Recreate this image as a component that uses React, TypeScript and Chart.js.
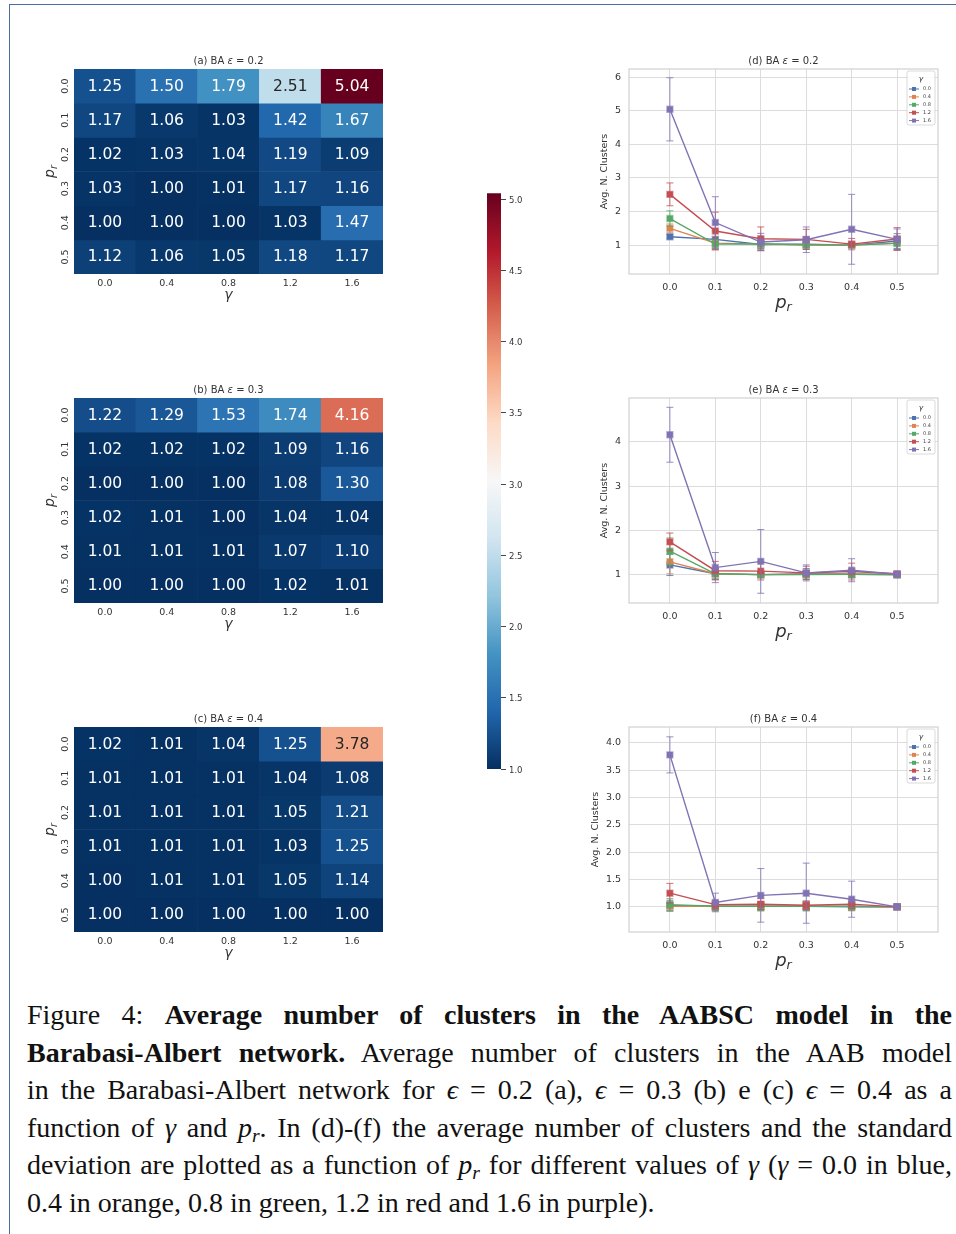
import React, { useEffect, useRef } from "react";
import { Chart, registerables } from "chart.js";

Chart.register(...registerables);

const FONT = '"DejaVu Sans", sans-serif';
const TEXT = "#333333";
const GRID = "#dcdcdc";
Chart.defaults.font.family = FONT;

// ---- categories / tick labels ----
const gammaLabels = ["0.0", "0.4", "0.8", "1.2", "1.6"];
const prLabels = ["0.0", "0.1", "0.2", "0.3", "0.4", "0.5"];
const prValues = [0, 0.1, 0.2, 0.3, 0.4, 0.5];

// ---- average number of clusters: rows = p_r, columns = gamma ----
const heatEps02 = [
  [1.25, 1.5, 1.79, 2.51, 5.04],
  [1.17, 1.06, 1.03, 1.42, 1.67],
  [1.02, 1.03, 1.04, 1.19, 1.09],
  [1.03, 1.0, 1.01, 1.17, 1.16],
  [1.0, 1.0, 1.0, 1.03, 1.47],
  [1.12, 1.06, 1.05, 1.18, 1.17],
];
const heatEps03 = [
  [1.22, 1.29, 1.53, 1.74, 4.16],
  [1.02, 1.02, 1.02, 1.09, 1.16],
  [1.0, 1.0, 1.0, 1.08, 1.3],
  [1.02, 1.01, 1.0, 1.04, 1.04],
  [1.01, 1.01, 1.01, 1.07, 1.1],
  [1.0, 1.0, 1.0, 1.02, 1.01],
];
const heatEps04 = [
  [1.02, 1.01, 1.04, 1.25, 3.78],
  [1.01, 1.01, 1.01, 1.04, 1.08],
  [1.01, 1.01, 1.01, 1.05, 1.21],
  [1.01, 1.01, 1.01, 1.03, 1.25],
  [1.0, 1.01, 1.01, 1.05, 1.14],
  [1.0, 1.0, 1.0, 1.0, 1.0],
];

// ---- standard deviations: rows = gamma, columns = p_r ----
const stdEps02 = [
  [0.06, 0.25, 0.12, 0.15, 0.03, 0.22],
  [0.13, 0.2, 0.15, 0.05, 0.03, 0.2],
  [0.23, 0.15, 0.18, 0.1, 0.03, 0.18],
  [0.34, 0.56, 0.35, 0.3, 0.17, 0.34],
  [0.94, 0.77, 0.26, 0.38, 1.04, 0.31],
];
const stdEps03 = [
  [0.24, 0.12, 0.03, 0.12, 0.08, 0.03],
  [0.27, 0.12, 0.03, 0.08, 0.08, 0.03],
  [0.3, 0.12, 0.03, 0.03, 0.08, 0.03],
  [0.2, 0.21, 0.2, 0.15, 0.19, 0.03],
  [0.62, 0.34, 0.72, 0.18, 0.26, 0.03],
];
const stdEps04 = [
  [0.1, 0.08, 0.08, 0.08, 0.03, 0.02],
  [0.08, 0.08, 0.08, 0.08, 0.08, 0.02],
  [0.11, 0.08, 0.08, 0.08, 0.08, 0.02],
  [0.18, 0.08, 0.1, 0.08, 0.08, 0.02],
  [0.33, 0.17, 0.49, 0.55, 0.33, 0.02],
];

const colorbarTicks = [1.0, 1.5, 2.0, 2.5, 3.0, 3.5, 4.0, 4.5, 5.0];
const yTicksEps02 = [1, 2, 3, 4, 5, 6];
const yTicksEps03 = [1, 2, 3, 4];
const yTicksEps04 = [1.0, 1.5, 2.0, 2.5, 3.0, 3.5, 4.0];

const seriesColors = ["#4c72b0", "#dd8452", "#55a868", "#c44e52", "#8172b3"];
const VMIN = 1.0;
const VMAX = 5.04;
const RDBU_R = [
  "#053061", "#2166ac", "#4393c3", "#92c5de", "#d1e5f0", "#f7f7f7",
  "#fddbc7", "#f4a582", "#d6604d", "#b2182b", "#67001f",
];

// ---- helpers ----
function hexToRgb(h: string): number[] {
  const n = parseInt(h.slice(1), 16);
  return [(n >> 16) & 255, (n >> 8) & 255, n & 255];
}
const RDBU_RGB = RDBU_R.map(hexToRgb);
function cmapRgb(v: number): number[] {
  let t = (v - VMIN) / (VMAX - VMIN);
  t = Math.min(1, Math.max(0, t));
  const p = t * (RDBU_RGB.length - 1);
  const i = Math.min(Math.floor(p), RDBU_RGB.length - 2);
  const fr = p - i;
  const a = RDBU_RGB[i];
  const b = RDBU_RGB[i + 1];
  return [0, 1, 2].map((k) => a[k] + (b[k] - a[k]) * fr);
}
const rgbStr = (c: number[]) => `rgb(${c.map((x) => Math.round(x)).join(",")})`;
function luminance(c: number[]): number {
  const lin = c.map((x) => {
    const s = x / 255;
    return s <= 0.03928 ? s / 12.92 : Math.pow((s + 0.055) / 1.055, 2.4);
  });
  return 0.2126 * lin[0] + 0.7152 * lin[1] + 0.0722 * lin[2];
}
function withAlpha(hex: string, a: number): string {
  const [r, g, b] = hexToRgb(hex);
  return `rgba(${r},${g},${b},${a})`;
}
const fnt = (size: number, italic = false) => `${italic ? "italic " : ""}${size}px ${FONT}`;

type Part = { t: string; f: string; dy?: number };
function drawRich(ctx: CanvasRenderingContext2D, parts: Part[], x: number, y: number, baseline: CanvasTextBaseline = "alphabetic") {
  ctx.textAlign = "left";
  ctx.textBaseline = baseline;
  let w = 0;
  for (const p of parts) {
    ctx.font = p.f;
    w += ctx.measureText(p.t).width;
  }
  let cx = x - w / 2;
  for (const p of parts) {
    ctx.font = p.f;
    ctx.fillText(p.t, cx, y + (p.dy || 0));
    cx += ctx.measureText(p.t).width;
  }
}
const titleParts = (tag: string, eps: string): Part[] => [
  { t: `(${tag}) BA `, f: fnt(10) },
  { t: "ε", f: fnt(10, true) },
  { t: ` = ${eps}`, f: fnt(10) },
];
const prParts = (size: number): Part[] => [
  { t: "p", f: fnt(size, true) },
  { t: "r", f: fnt(size * 0.7, true), dy: size * 0.18 },
];

// ---- heatmap ----
function Heatmap({ left, top, tag, eps, matrix }: { left: number; top: number; tag: string; eps: string; matrix: number[][] }) {
  const ref = useRef<HTMLCanvasElement>(null);
  const W = 380;
  const H = 275;
  useEffect(() => {
    const textPlugin = {
      id: "heatText",
      afterDraw(chart: any) {
        const { ctx, chartArea: ca } = chart;
        ctx.save();
        chart.data.datasets.forEach((ds: any, i: number) => {
          const meta = chart.getDatasetMeta(i);
          meta.data.forEach((bar: any, j: number) => {
            const v = ds.cellValues[j];
            ctx.fillStyle = luminance(cmapRgb(v)) > 0.408 ? "#262626" : "#ffffff";
            ctx.font = fnt(15.5);
            ctx.textAlign = "center";
            ctx.textBaseline = "middle";
            const c = bar.getCenterPoint();
            ctx.fillText(v.toFixed(2), c.x, c.y + 0.5);
          });
        });
        const ys = chart.scales.y;
        ctx.fillStyle = TEXT;
        prLabels.forEach((lab, i) => {
          const py = ys.getPixelForValue(i + 0.5);
          ctx.save();
          ctx.translate(ca.left - 8.5, py);
          ctx.rotate(-Math.PI / 2);
          ctx.font = fnt(9.5);
          ctx.textAlign = "center";
          ctx.textBaseline = "middle";
          ctx.fillText(lab, 0, 0);
          ctx.restore();
        });
        const cx = (ca.left + ca.right) / 2;
        const cy = (ca.top + ca.bottom) / 2;
        ctx.save();
        ctx.translate(ca.left - 20, cy);
        ctx.rotate(-Math.PI / 2);
        drawRich(ctx, prParts(14), 0, 0);
        ctx.restore();
        drawRich(ctx, [{ t: "γ", f: fnt(14, true) }], cx, ca.bottom + 25);
        drawRich(ctx, titleParts(tag, eps), cx, ca.top - 5.5);
        ctx.restore();
      },
    };
    const chart = new Chart(ref.current as HTMLCanvasElement, {
      type: "bar",
      data: {
        labels: gammaLabels,
        datasets: matrix.map((row, i) => ({
          label: prLabels[i],
          data: row.map(() => 1),
          cellValues: row,
          backgroundColor: row.map((v) => rgbStr(cmapRgb(v))),
          borderWidth: 0,
          barPercentage: 1,
          categoryPercentage: 1,
        })) as any,
      },
      options: {
        animation: false,
        responsive: false,
        events: [],
        layout: { padding: { left: 54, top: 24, right: 17, bottom: 16 } },
        plugins: { legend: { display: false }, tooltip: { enabled: false } },
        scales: {
          x: {
            stacked: true,
            grid: { display: false, drawTicks: false },
            border: { display: false },
            ticks: { color: TEXT, font: { family: FONT, size: 9.5 }, padding: 4 },
            afterFit: (s: any) => {
              s.height = 30;
            },
          },
          y: { stacked: true, display: false, min: 0, max: 6, reverse: true },
        },
      } as any,
      plugins: [textPlugin],
    });
    return () => chart.destroy();
  }, []);
  return <canvas ref={ref} width={W} height={H} style={{ position: "absolute", left, top, width: W, height: H }} />;
}

// ---- colour bar ----
function ColorBar({ left, top }: { left: number; top: number }) {
  const ref = useRef<HTMLCanvasElement>(null);
  const W = 60;
  const H = 600;
  useEffect(() => {
    const chart = new Chart(ref.current as HTMLCanvasElement, {
      type: "bar",
      data: {
        labels: [""],
        datasets: [
          {
            data: [[VMIN, VMAX]],
            backgroundColor: (c: any) => {
              const ca = c.chart.chartArea;
              if (!ca) return RDBU_R[0];
              const g = c.chart.ctx.createLinearGradient(0, ca.bottom, 0, ca.top);
              RDBU_R.forEach((col, i) => g.addColorStop(i / (RDBU_R.length - 1), col));
              return g;
            },
            borderWidth: 0,
            barPercentage: 1,
            categoryPercentage: 1,
          },
        ] as any,
      },
      options: {
        animation: false,
        responsive: false,
        events: [],
        layout: { padding: { left: 17, top: 8.3, right: 0, bottom: 16 } },
        plugins: { legend: { display: false }, tooltip: { enabled: false } },
        scales: {
          x: { display: false },
          y: {
            position: "right",
            min: VMIN,
            max: VMAX,
            afterBuildTicks: (s: any) => {
              s.ticks = colorbarTicks.map((v) => ({ value: v }));
            },
            afterFit: (s: any) => {
              s.width = 29;
            },
            grid: { drawOnChartArea: false, drawTicks: true, tickLength: 5, color: "#333", lineWidth: 0.9 },
            border: { display: false },
            ticks: { color: TEXT, font: { family: FONT, size: 8.5 }, padding: 3, labelOffset: 1.5, callback: (v: any) => Number(v).toFixed(1) },
          },
        },
      } as any,
    });
    return () => chart.destroy();
  }, []);
  return <canvas ref={ref} width={W} height={H} style={{ position: "absolute", left, top, width: W, height: H }} />;
}

// ---- line chart with error bars ----
function LinePanel(props: {
  left: number; top: number; tag: string; eps: string; matrix: number[][]; std: number[][];
  yMin: number; yMax: number; yTicks: number[]; yDec: number; yTitleX: number;
}) {
  const { left, top, tag, eps, matrix, std, yMin, yMax, yTicks, yDec, yTitleX } = props;
  const ref = useRef<HTMLCanvasElement>(null);
  const W = 376;
  const H = 275;
  useEffect(() => {
    const decor = {
      id: "decor",
      beforeDatasetsDraw(chart: any) {
        const { ctx, chartArea: ca } = chart;
        ctx.save();
        ctx.strokeStyle = "#d2d2d2";
        ctx.lineWidth = 1.25;
        ctx.strokeRect(ca.left, ca.top, ca.right - ca.left, ca.bottom - ca.top);
        ctx.restore();
      },
      beforeDatasetDraw(chart: any, args: any) {
        const { ctx } = chart;
        const ys = chart.scales.y;
        const ds = chart.data.datasets[args.index];
        const meta = args.meta;
        ctx.save();
        ctx.strokeStyle = withAlpha(ds.borderColor, 0.8);
        ctx.lineWidth = 1;
        meta.data.forEach((pt: any, i: number) => {
          const v = ds.data[i].y;
          const e = ds.errors[i];
          const y1 = ys.getPixelForValue(v + e);
          const y2 = ys.getPixelForValue(v - e);
          ctx.beginPath();
          ctx.moveTo(pt.x, y1);
          ctx.lineTo(pt.x, y2);
          ctx.moveTo(pt.x - 3.5, y1);
          ctx.lineTo(pt.x + 3.5, y1);
          ctx.moveTo(pt.x - 3.5, y2);
          ctx.lineTo(pt.x + 3.5, y2);
          ctx.stroke();
        });
        ctx.restore();
      },
      afterDraw(chart: any) {
        const { ctx, chartArea: ca } = chart;
        const cx = (ca.left + ca.right) / 2;
        const cy = (ca.top + ca.bottom) / 2;
        ctx.save();
        ctx.fillStyle = TEXT;
        drawRich(ctx, titleParts(tag, eps), cx, ca.top - 5.5);
        drawRich(ctx, prParts(18), cx, ca.bottom + 34);
        ctx.save();
        ctx.translate(yTitleX, cy);
        ctx.rotate(-Math.PI / 2);
        ctx.font = fnt(9.5);
        ctx.textAlign = "center";
        ctx.textBaseline = "middle";
        ctx.fillText("Avg. N. Clusters", 0, 0);
        ctx.restore();
        // legend
        const bx = ca.right - 31;
        const by = ca.top + 2;
        const bw = 28;
        const bh = 54;
        ctx.beginPath();
        ctx.roundRect(bx, by, bw, bh, 2);
        ctx.fillStyle = "rgba(255,255,255,0.85)";
        ctx.fill();
        ctx.strokeStyle = "#d0d0d0";
        ctx.lineWidth = 0.8;
        ctx.stroke();
        ctx.fillStyle = TEXT;
        drawRich(ctx, [{ t: "γ", f: fnt(7.5, true) }], bx + bw / 2, ca.top + 10, "middle");
        chart.data.datasets.forEach((ds: any, k: number) => {
          const y = ca.top + 20 + k * 7.9;
          ctx.strokeStyle = ds.borderColor;
          ctx.lineWidth = 1;
          ctx.beginPath();
          ctx.moveTo(bx + 2, y);
          ctx.lineTo(bx + 12, y);
          ctx.stroke();
          ctx.fillStyle = ds.borderColor;
          ctx.fillRect(bx + 5, y - 2, 4, 4);
          ctx.fillStyle = "#444";
          ctx.font = fnt(5);
          ctx.textAlign = "left";
          ctx.textBaseline = "middle";
          ctx.fillText(ds.label, bx + 16, y);
        });
        ctx.restore();
      },
    };
    const chart = new Chart(ref.current as HTMLCanvasElement, {
      type: "line",
      data: {
        datasets: gammaLabels.map((g, k) => ({
          label: g,
          data: prValues.map((p, i) => ({ x: p, y: matrix[i][k] })),
          errors: std[k],
          borderColor: seriesColors[k],
          backgroundColor: seriesColors[k],
          borderWidth: 1.4,
          pointStyle: "rect",
          pointRadius: 4.2,
          pointBackgroundColor: seriesColors[k],
          pointBorderColor: withAlpha(seriesColors[k], 0.5),
          pointBorderWidth: 1.5,
          order: gammaLabels.length - k,
          tension: 0,
        })) as any,
      },
      options: {
        animation: false,
        responsive: false,
        events: [],
        layout: { padding: { left: 0, top: 24, right: 18, bottom: 16 } },
        plugins: { legend: { display: false }, tooltip: { enabled: false } },
        scales: {
          x: {
            type: "linear",
            min: -0.09,
            max: 0.59,
            afterBuildTicks: (s: any) => {
              s.ticks = prValues.map((v) => ({ value: v }));
            },
            afterFit: (s: any) => {
              s.height = 30;
            },
            grid: { color: GRID, lineWidth: 1, drawTicks: false },
            border: { display: false },
            ticks: { color: TEXT, font: { family: FONT, size: 9.5 }, padding: 8, callback: (v: any) => Number(v).toFixed(1) },
          },
          y: {
            type: "linear",
            min: yMin,
            max: yMax,
            afterBuildTicks: (s: any) => {
              s.ticks = yTicks.map((v) => ({ value: v }));
            },
            afterFit: (s: any) => {
              s.width = 49;
            },
            grid: { color: GRID, lineWidth: 1, drawTicks: false },
            border: { display: false },
            ticks: { color: TEXT, font: { family: FONT, size: 9.5 }, padding: 8, callback: (v: any) => Number(v).toFixed(yDec) },
          },
        },
      } as any,
      plugins: [decor],
    });
    return () => chart.destroy();
  }, []);
  return <canvas ref={ref} width={W} height={H} style={{ position: "absolute", left, top, width: W, height: H }} />;
}

const lineJust: React.CSSProperties = { textAlign: "justify", textAlignLast: "justify" };
const subStyle: React.CSSProperties = {
  fontSize: "0.7em",
  fontStyle: "italic",
  lineHeight: 0,
  position: "relative",
  top: "0.28em",
};

function Caption() {
  return (
    <div
      style={{
        position: "absolute",
        left: 27,
        top: 996,
        width: 925,
        fontFamily: '"Liberation Serif", "Times New Roman", serif',
        fontSize: 28,
        lineHeight: "37.5px",
        color: "#111",
      }}
    >
      <div style={lineJust}>
        Figure 4: <b>Average number of clusters in the AABSC model in the</b>
      </div>
      <div style={lineJust}>
        <b>Barabasi-Albert network.</b> Average number of clusters in the AAB model
      </div>
      <div style={lineJust}>
        in the Barabasi-Albert network for <i>ϵ</i> = 0.2 (a), <i>ϵ</i> = 0.3 (b) e (c) <i>ϵ</i> = 0.4 as a
      </div>
      <div style={lineJust}>
        function of <i>γ</i> and <i>p</i>
        <span style={subStyle}>r</span>. In (d)-(f) the average number of clusters and the standard
      </div>
      <div style={lineJust}>
        deviation are plotted as a function of <i>p</i>
        <span style={subStyle}>r</span> for different values of <i>γ</i> (<i>γ</i> = 0.0 in blue,
      </div>
      <div>0.4 in orange, 0.8 in green, 1.2 in red and 1.6 in purple).</div>
    </div>
  );
}

export default function App() {
  return (
    <div style={{ position: "absolute", left: 0, top: 0, width: 956, height: 1234, background: "#fff", overflow: "hidden" }}>
      <div
        style={{
          position: "absolute",
          left: 9,
          top: 4,
          width: 947,
          height: 1230,
          borderTop: "1.5px solid #4a6e9c",
          borderLeft: "1.5px solid #4a6e9c",
          boxSizing: "border-box",
        }}
      />
      <Heatmap left={20} top={45} tag="a" eps="0.2" matrix={heatEps02} />
      <Heatmap left={20} top={374} tag="b" eps="0.3" matrix={heatEps03} />
      <Heatmap left={20} top={703} tag="c" eps="0.4" matrix={heatEps04} />
      <ColorBar left={470} top={185} />
      <LinePanel left={580} top={45} tag="d" eps="0.2" matrix={heatEps02} std={stdEps02} yMin={0.14} yMax={6.24} yTicks={yTicksEps02} yDec={0} yTitleX={25} />
      <LinePanel left={580} top={374} tag="e" eps="0.3" matrix={heatEps03} std={stdEps03} yMin={0.36} yMax={4.99} yTicks={yTicksEps03} yDec={0} yTitleX={25} />
      <LinePanel left={580} top={703} tag="f" eps="0.4" matrix={heatEps04} std={stdEps04} yMin={0.54} yMax={4.29} yTicks={yTicksEps04} yDec={1} yTitleX={16} />
      <Caption />
    </div>
  );
}
